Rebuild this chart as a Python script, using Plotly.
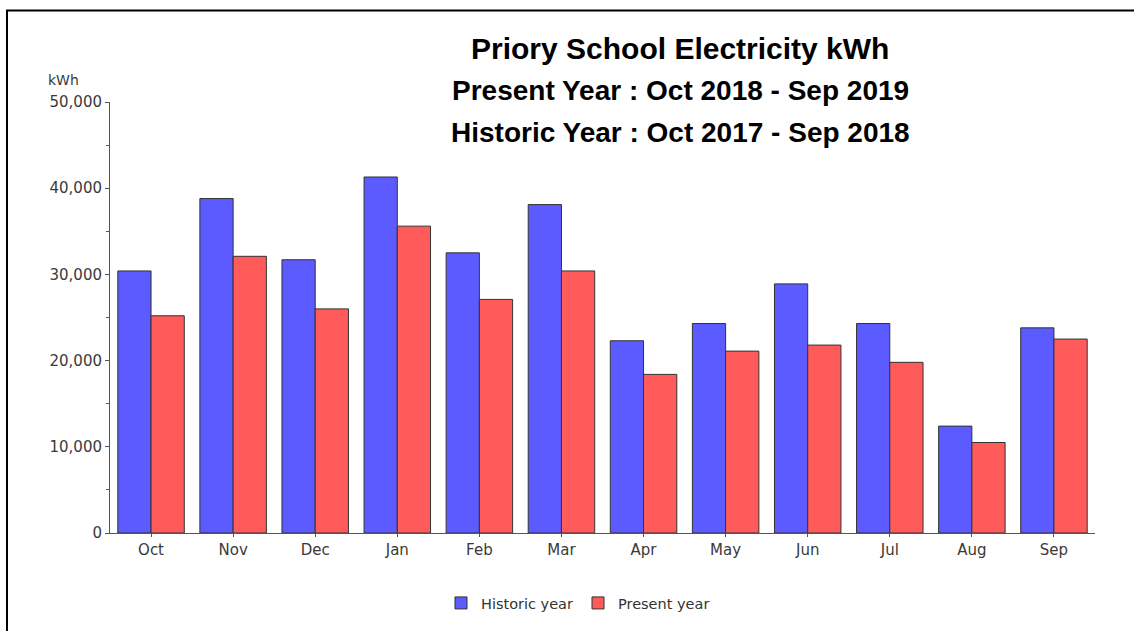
import plotly.graph_objects as go

months = ["Oct", "Nov", "Dec", "Jan", "Feb", "Mar", "Apr", "May", "Jun", "Jul", "Aug", "Sep"]
historic = [30400, 38800, 31700, 41300, 32500, 38100, 22300, 24300, 28900, 24300, 12400, 23800]
present = [25200, 32100, 26000, 35600, 27100, 30400, 18400, 21100, 21800, 19800, 10500, 22500]

W, H = 1134, 631
L, R, T, B = 110, 39, 102, 98
pw, ph = W - L - R, H - T - B

def px(x):
    return (x - L) / pw

def py(y):
    return (H - B - y) / ph

fig = go.Figure()
fig.add_trace(go.Bar(name="Historic year", x=months, y=historic,
                     marker=dict(color="#5B5BFF", line=dict(color="#333333", width=1))))
fig.add_trace(go.Bar(name="Present year", x=months, y=present,
                     marker=dict(color="#FF5B5B", line=dict(color="#333333", width=1))))

tick_font = dict(family="DejaVu Sans", size=15, color="#3a3a3a")

fig.update_layout(
    width=W, height=H,
    margin=dict(l=L, r=R, t=T, b=B),
    paper_bgcolor="white", plot_bgcolor="white",
    barmode="group", bargap=0.19, bargroupgap=0,
    showlegend=True,
    legend=dict(orientation="h", x=px(578), y=py(603), xanchor="center", yanchor="middle",
                font=dict(family="DejaVu Sans", size=14.5, color="#333333"),
                itemwidth=30, tracegroupgap=0),
    xaxis=dict(range=[-0.5, 11.5], showline=True, linecolor="#555555", linewidth=1,
               ticks="outside", ticklen=3, tickcolor="#555555", showgrid=False,
               tickfont=tick_font, zeroline=False),
    yaxis=dict(range=[0, 50000], dtick=10000, tickformat=",", showline=True,
               linecolor="#555555", linewidth=1, ticks="outside", ticklen=4,
               tickcolor="#555555", showgrid=False, zeroline=False, tickfont=tick_font,
               minor=dict(dtick=5000, ticks="outside", ticklen=3, tickcolor="#555555",
                          showgrid=False)),
    font=dict(family="DejaVu Sans"),
)

titles = [("Priory School Electricity kWh", 30, 49),
          ("Present Year : Oct 2018 - Sep 2019", 28, 90),
          ("Historic Year : Oct 2017 - Sep 2018", 28, 132)]
for text, size, yy in titles:
    fig.add_annotation(text="<b>%s</b>" % text, xref="paper", yref="paper",
                       x=px(680), y=py(yy), xanchor="center", yanchor="middle",
                       showarrow=False,
                       font=dict(family="Liberation Sans", size=size, color="black"))

fig.add_annotation(text="kWh", xref="paper", yref="paper", x=px(63), y=py(80),
                   xanchor="center", yanchor="middle", showarrow=False,
                   font=dict(family="DejaVu Sans", size=14, color="#3a3a3a"))

fig.add_shape(type="rect", xref="paper", yref="paper",
              x0=px(7), y0=py(700), x1=px(1200), y1=py(10.5),
              line=dict(color="black", width=2), fillcolor="rgba(0,0,0,0)", layer="above")

fig.write_html("out.html", config={"displayModeBar": False},
               post_script="document.body.style.margin='0px';document.body.style.overflow='hidden';")
